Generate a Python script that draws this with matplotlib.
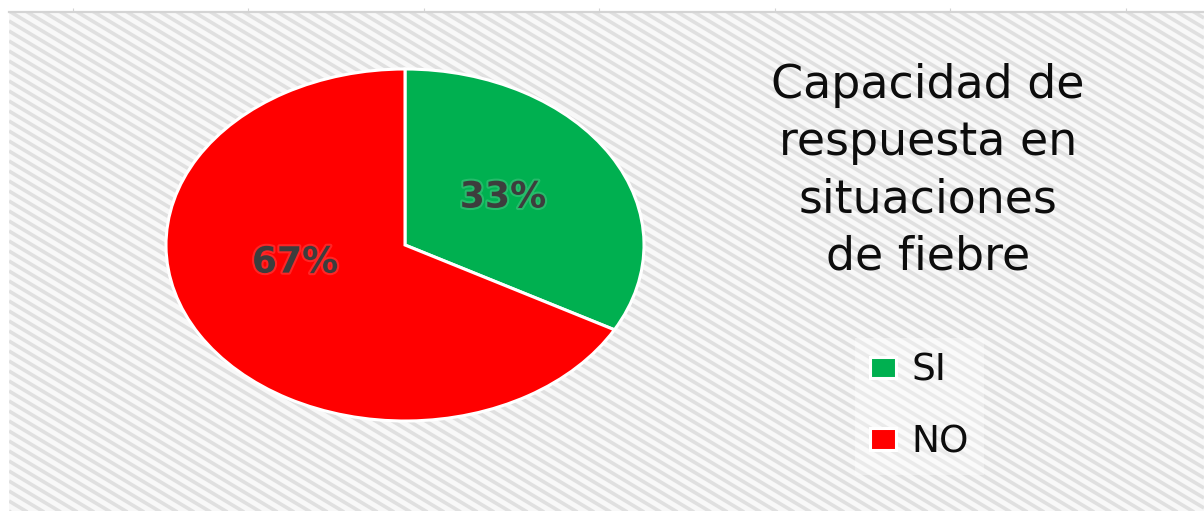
import numpy as np
import matplotlib
matplotlib.use("Agg")
import matplotlib.pyplot as plt
import matplotlib.patheffects as pe

# Survey answers: response capacity in fever situations
categories = ["SI", "NO"]
shares = [33, 67]
slice_colors = ["#00B050", "#FF0000"]
title_text = "Capacidad de\nrespuesta en\nsituaciones\nde fiebre"

W, H = 1204, 511
fig = plt.figure(figsize=(W / 100, H / 100), dpi=100)
fig.patch.set_facecolor("white")

# Striped slide background
bg = fig.add_axes([9 / W, 0, (W - 9) / W, 499 / H], zorder=0)
bw, bh = W - 9, 499
bg.set_xlim(0, bw)
bg.set_ylim(0, bh)
bg.set_facecolor("#f8f8f8")
slope = 0.6
period = 10.0
xs = np.array([0, bw])
for c in np.arange(0, bh + slope * bw + period, period):
    bg.plot(xs, c - slope * xs, color="#e0e0e0", lw=2.6, solid_capstyle="butt")
for side in ("left", "right", "bottom"):
    bg.spines[side].set_visible(False)
bg.spines["top"].set_color("#d4d4d4")
bg.spines["top"].set_linewidth(1.6)
bg.xaxis.tick_top()
bg.set_xticks(np.arange(64, bw, 175.5))
bg.tick_params(axis="x", length=3, color="#d4d4d4", labeltop=False, labelbottom=False)
bg.set_yticks([])

# Pie drawn as an ellipse (axes not forced to equal aspect)
cx, cy = 405, H - 245
rx, ry = 239, 176
lim = 1.05
ax = fig.add_axes([(cx - rx * lim) / W, (cy - ry * lim) / H,
                   2 * rx * lim / W, 2 * ry * lim / H], zorder=2)
ax.patch.set_alpha(0)
wedges, _, pct_texts = ax.pie(
    shares, colors=slice_colors, startangle=90, counterclock=False,
    autopct=lambda p: f"{p:.0f}%", pctdistance=0.5,
    wedgeprops=dict(edgecolor="white", linewidth=2.2),
    textprops=dict(fontsize=26, fontweight="heavy", color="#3d3d3d"),
)
ax.set_aspect("auto")
ax.set_xlim(-lim, lim)
ax.set_ylim(-lim, lim)
ax.axis("off")
pct_texts[0].set_position((0.41, 0.27))
pct_texts[1].set_position((-0.46, -0.10))
for t in pct_texts:
    t.set_path_effects([pe.withStroke(linewidth=3, foreground="#ffffff", alpha=0.15)])

# Title block
fig.text(928 / W, 1 - 171.5 / H, title_text, ha="center", va="center",
         fontsize=33, color="#0d0d0d", linespacing=1.35, zorder=3)

# Legend
leg = fig.legend(wedges, categories, loc="center left",
                 bbox_to_anchor=(855 / W, 1 - 406.5 / H),
                 fontsize=27, frameon=True, facecolor="white", framealpha=0.35,
                 edgecolor="none", fancybox=False, borderaxespad=0, borderpad=0.4,
                 handlelength=0.69, handleheight=0.5, handletextpad=0.42,
                 labelspacing=0.95)
leg.set_zorder(3)
for t in leg.get_texts():
    t.set_color("#0d0d0d")

fig.savefig("out.png", dpi=100)
